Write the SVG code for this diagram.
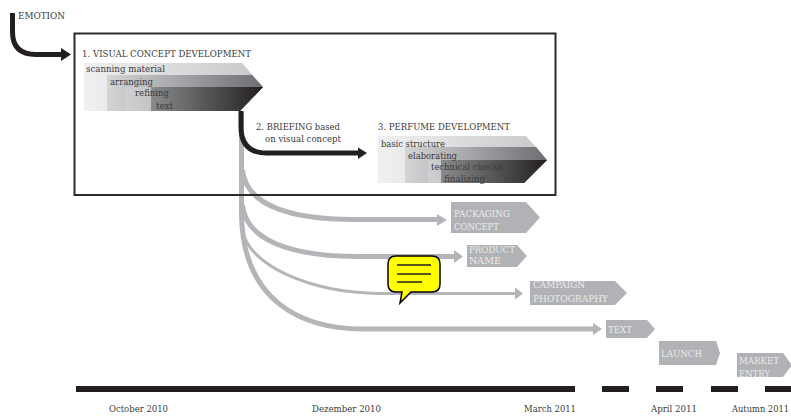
<svg xmlns="http://www.w3.org/2000/svg" width="791" height="416" viewBox="0 0 791 416">
<style>
text{font-family:"DejaVu Serif","Liberation Serif",serif;font-size:9px;fill:#3a3a3a}
.w{fill:#ebebed;font-size:9.500px}
.g{fill:#b1b2b5}
.k{fill:none;stroke:#231f20;stroke-width:5}
.s{fill:none;stroke:#b4b5b8;stroke-width:5}
.ka{fill:#231f20}
.ga{fill:#b4b5b8}
.tl{fill:#231f20}
</style>
<defs>
<linearGradient id="a1"><stop offset="0" stop-color="#f0f0f1"/><stop offset="1" stop-color="#c6c7c9"/></linearGradient>
<linearGradient id="a2"><stop offset="0" stop-color="#d4d5d7"/><stop offset="1" stop-color="#6d6e71"/></linearGradient>
<linearGradient id="a3"><stop offset="0" stop-color="#cfd0d2"/><stop offset="1" stop-color="#8d8e91"/></linearGradient>
<linearGradient id="a4"><stop offset="0" stop-color="#8a8b8d"/><stop offset="1" stop-color="#231f20"/></linearGradient>
</defs>
<g id="connectors">
<path class="s" d="M242.5,170C246,205 290,219 353,219.5H438"/>
<path class="s" d="M242.5,205C246,240 290,256 357,256.5H455"/>
<path class="s" style="stroke-width:3" d="M242.5,230C248,265 310,293 380,293.5H516"/>
<path class="s" d="M241.500,112V215C243,300 300,329 363,329H594"/>
<polygon class="ga" points="437,214 447,220 437,226"/>
<polygon class="ga" points="454,250 463,256.500 454,263"/>
<polygon class="ga" points="515,287.500 523,293.500 515,299.500"/>
<polygon class="ga" points="593,323 602,329 593,335"/>
<path class="k" d="M12.500,13V32Q12.500,54.500 36,54.500H62"/>
<polygon class="ka" points="61,48 71,54.500 61,61"/>
<path class="k" d="M241,111V127Q241,153 267,153H359"/>
<polygon class="ka" points="358,147.500 367,153 358,159"/>
</g>
<rect id="frame" x="74.500" y="33.500" width="481" height="161.500" fill="none" stroke="#2b2b2b" stroke-width="2"/>
<g id="node-emotion"><text x="18" y="19" textLength="47" lengthAdjust="spacingAndGlyphs">EMOTION</text></g>
<g id="node-visual-concept">
<polygon points="84,63 242,63 263,87 240,111 84,111" fill="url(#a1)"/>
<polygon points="107,75 252,75 263,87 240,111 107,111" fill="url(#a2)"/>
<polygon points="126,87 263,87 240,111 126,111" fill="url(#a3)"/>
<polygon points="151,87 263,87 240,111 151,111" fill="url(#a4)"/>
<text x="82" y="57" textLength="169" lengthAdjust="spacingAndGlyphs">1. VISUAL CONCEPT DEVELOPMENT</text>
<text x="86" y="72" textLength="79" lengthAdjust="spacingAndGlyphs">scanning material</text>
<text x="110" y="85" textLength="43" lengthAdjust="spacingAndGlyphs">arranging</text>
<text x="135" y="96" textLength="34" lengthAdjust="spacingAndGlyphs">refining</text>
<text x="156" y="109" textLength="17" lengthAdjust="spacingAndGlyphs">text</text>
</g>
<g id="node-briefing">
<text x="256" y="130" textLength="84" lengthAdjust="spacingAndGlyphs">2. BRIEFING based</text>
<text x="265" y="142" textLength="76" lengthAdjust="spacingAndGlyphs">on visual concept</text>
</g>
<g id="node-perfume">
<polygon points="378,136 526,136 547,160 524,183 378,183" fill="url(#a1)"/>
<polygon points="405,147 536,147 547,160 524,183 405,183" fill="url(#a2)"/>
<polygon points="428,160 547,160 524,183 428,183" fill="url(#a3)"/>
<polygon points="441,160 547,160 524,183 441,183" fill="url(#a4)"/>
<text x="378" y="130" textLength="132" lengthAdjust="spacingAndGlyphs">3. PERFUME DEVELOPMENT</text>
<text x="381" y="147" textLength="64" lengthAdjust="spacingAndGlyphs">basic structure</text>
<text x="408" y="159" textLength="49" lengthAdjust="spacingAndGlyphs">elaborating</text>
<text x="431" y="170" textLength="71" lengthAdjust="spacingAndGlyphs">technical checks</text>
<text x="444" y="182" textLength="41" lengthAdjust="spacingAndGlyphs">finalizing</text>
</g>
<g id="node-packaging">
<polygon class="g" points="451,202 526,202 540,217.500 526,233 451,233"/>
<text class="w" x="454" y="217" textLength="56" lengthAdjust="spacingAndGlyphs">PACKAGING</text>
<text class="w" x="454" y="230" textLength="45" lengthAdjust="spacingAndGlyphs">CONCEPT</text>
</g>
<g id="node-product">
<polygon class="g" points="467,245 517,245 527,256 517,267 467,267"/>
<text class="w" x="469" y="253" textLength="46" lengthAdjust="spacingAndGlyphs">PRODUCT</text>
<text class="w" x="469" y="264" textLength="32" lengthAdjust="spacingAndGlyphs">NAME</text>
</g>
<g id="node-campaign">
<polygon class="g" points="530,281 615,281 627,293 615,305 530,305"/>
<text class="w" x="533" y="288" textLength="52" lengthAdjust="spacingAndGlyphs">CAMPAIGN</text>
<text class="w" x="533" y="302" textLength="75" lengthAdjust="spacingAndGlyphs">PHOTOGRAPHY</text>
</g>
<g id="node-text">
<polygon class="g" points="606,320 647,320 655,329 647,338 606,338"/>
<text class="w" x="608" y="333" textLength="24" lengthAdjust="spacingAndGlyphs">TEXT</text>
</g>
<g id="node-launch">
<polygon class="g" points="659,341 716,341 720,353 716,365 659,365"/>
<text class="w" x="661" y="357" textLength="41" lengthAdjust="spacingAndGlyphs">LAUNCH</text>
</g>
<g id="node-market">
<polygon class="g" points="737,353 783,353 792,365 783,377 737,377"/>
<text class="w" x="739" y="364" textLength="40" lengthAdjust="spacingAndGlyphs">MARKET</text>
<text class="w" x="739" y="377" textLength="31" lengthAdjust="spacingAndGlyphs">ENTRY</text>
</g>
<g id="callout">
<path d="M396,256H432Q440,256 440,264V284Q440,292 432,292H411L400,303L402,292H396Q388,292 388,284V264Q388,256 396,256Z" fill="#ffff00" stroke="#000" stroke-width="1.500"/>
<path d="M397,265H431M397,274H431M397,282H422" stroke="#222" stroke-width="1.500" fill="none"/>
</g>
<g id="timeline">
<rect class="tl" x="76" y="386" width="499" height="6"/>
<rect class="tl" x="602" y="386" width="27" height="6"/>
<rect class="tl" x="656" y="386" width="27" height="6"/>
<rect class="tl" x="711" y="386" width="27" height="6"/>
<rect class="tl" x="765" y="386" width="26" height="6"/>
<text x="109" y="412" textLength="59" lengthAdjust="spacingAndGlyphs">October 2010</text>
<text x="312" y="412" textLength="69" lengthAdjust="spacingAndGlyphs">Dezember 2010</text>
<text x="524" y="412" textLength="52" lengthAdjust="spacingAndGlyphs">March 2011</text>
<text x="651" y="412" textLength="46" lengthAdjust="spacingAndGlyphs">April 2011</text>
<text x="732" y="412" style="font-size:8.300px">Autumn 2011</text>
</g>
</svg>
